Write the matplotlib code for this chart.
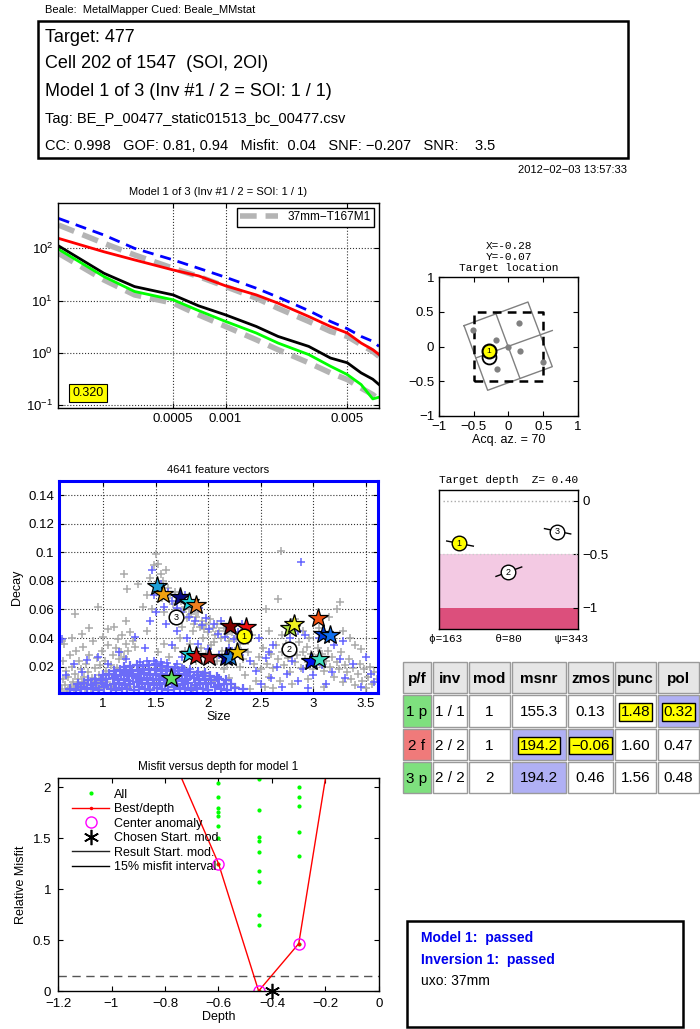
import matplotlib
matplotlib.use("Agg")
import matplotlib.pyplot as plt
import numpy as np
from matplotlib.patches import Rectangle
from matplotlib.lines import Line2D
from matplotlib.ticker import FuncFormatter, NullLocator, LogFormatterMathtext

plt.rcParams['font.family'] = ['Liberation Sans', 'DejaVu Sans']
plt.rcParams['mathtext.default'] = 'regular'
plt.rcParams['xtick.direction'] = 'in'
plt.rcParams['ytick.direction'] = 'in'
plt.rcParams['xtick.top'] = True
plt.rcParams['ytick.right'] = True
plt.rcParams['xtick.labelsize'] = 9.5
plt.rcParams['ytick.labelsize'] = 9.5
plt.rcParams['axes.linewidth'] = 1.0

MONO = ['Liberation Mono', 'DejaVu Sans Mono']

# ---------------- header ----------------
site_line = "Beale:  MetalMapper Cued: Beale_MMstat"
header_big = ["Target: 477", "Cell 202 of 1547  (SOI, 2OI)", "Model 1 of 3 (Inv #1 / 2 = SOI: 1 / 1)"]
header_small = ["Tag: BE_P_00477_static01513_bc_00477.csv",
                "CC: 0.998   GOF: 0.81, 0.94   Misfit:  0.04   SNF: \u22120.207   SNR:    3.5"]
stamp = "2012\u221202\u221203 13:57:33"

# ---------------- decay curves ----------------
decay_time = [1.1e-4, 2e-4, 3e-4, 5e-4, 7e-4, 1e-3, 1.5e-3, 2e-3, 3e-3, 4e-3, 5e-3, 6e-3, 7e-3, 7.6e-3]
lib_upper = [279, 125, 74.7, 41.5, 28.8, 18.5, 11.1, 7.1, 3.97, 2.56, 2.05, 1.42, 1.06, 0.85]
lib_lower = [80, 24.8, 12.8, 8.9, 5.3, 3.18, 1.77, 1.14, 0.64, 0.41, 0.305, 0.21, 0.157, 0.126]
beta_blue = [374, 180, 100, 60, 41.5, 27.9, 17.2, 11.6, 6.4, 3.97, 2.88, 2.05, 1.65, 1.32]
beta_red = [155, 86, 60, 38.5, 29.6, 19.1, 12.8, 8.9, 4.94, 3.18, 2.38, 1.53, 1.14, 0.92]
beta_black = [111, 33.3, 18.5, 12.8, 7.9, 5.3, 3.18, 2.05, 1.32, 0.79, 0.64, 0.41, 0.31, 0.245]
beta_green = [95.7, 28.8, 14.9, 10.3, 6.4, 3.97, 2.38, 1.53, 0.92, 0.55, 0.38, 0.245, 0.13, 0.14]
lib_name = "37mm\u2212T167M1"
match_score = "0.320"

# ---------------- target location ----------------
target_x, target_y = -0.28, -0.07
other_x, other_y = -0.28, -0.15
frame_x = [-0.64, 0.28, 0.63, -0.30, -0.64]
frame_y = [0.30, 0.64, -0.29, -0.63, 0.30]
inner_x0 = [-0.18, -0.47]
inner_y0 = [0.47, -0.165]
inner_x1 = [0.165, 0.63]
inner_y1 = [-0.46, 0.23]
rx_x = [-0.51, 0.15, -0.18, 0.0, 0.16, 0.49, -0.17]
rx_y = [0.24, 0.34, 0.09, 0.0, -0.07, -0.23, -0.33]
acq_az = 70

# ---------------- feature vectors ----------------
gray_pts = [
    (0.61, .004), (0.62, .011), (0.62, .024), (0.63, .036), (0.64, .007), (0.65, .017), (0.66, .003),
    (0.67, .013), (0.68, .028), (0.69, .006), (0.70, .020), (0.71, .009), (0.72, .004), (0.73, .015),
    (0.74, .031), (0.75, .007), (0.76, .011), (0.77, .024), (0.78, .004), (0.79, .018), (0.80, .009),
    (0.81, .034), (0.82, .013), (0.83, .005), (0.84, .022), (0.85, .008), (0.86, .016), (0.87, .028),
    (0.88, .004), (0.89, .012), (0.90, .038), (0.91, .007), (0.92, .019), (0.93, .010), (0.94, .026),
    (0.95, .005), (0.96, .014), (0.97, .021), (0.98, .008), (0.99, .031), (1.00, .012), (1.01, .005),
    (1.02, .024), (1.03, .017), (1.04, .009), (1.05, .035), (1.06, .014), (1.07, .021), (1.08, .006),
    (1.09, .028), (1.10, .011), (1.12, .033), (1.13, .019), (1.14, .039), (1.15, .025), (1.17, .030),
    (1.18, .042), (1.20, .027), (1.22, .036), (1.24, .031), (1.26, .044), (1.28, .038), (1.30, .034),
    (0.61, .038), (0.73, .057), (0.87, .047), (0.95, .0615), (1.05, .046), (1.20, .085), (1.22, .052),
    (1.23, .074), (1.33, .078), (1.42, .045), (0.70, .040), (0.80, .043), (1.00, .041), (1.10, .048),
    (1.38, .062), (1.42, .070), (1.45, .082), (1.48, .091), (1.50, .099), (1.52, .092), (1.55, .085),
    (1.57, .080), (1.60, .088), (1.62, .075), (1.64, .070), (1.66, .064), (1.68, .072), (1.70, .060),
    (1.72, .056), (1.74, .066), (1.76, .058), (1.78, .062), (1.80, .054), (1.82, .060), (1.84, .057),
    (1.86, .050), (1.88, .055), (1.90, .058), (1.92, .048), (1.94, .052), (1.96, .046), (1.98, .050),
    (2.00, .044), (2.02, .053), (2.04, .047), (2.06, .042), (2.08, .050), (2.10, .045), (2.12, .040),
    (2.15, .047), (2.18, .043), (2.20, .038), (2.23, .044), (2.26, .040), (2.30, .036), (2.34, .046),
    (2.38, .038), (2.42, .042), (1.46, .060), (1.56, .068), (1.66, .052), (1.75, .048), (1.58, .058),
    (1.85, .045), (1.95, .040), (2.05, .037),
    (1.52, .030), (1.58, .036), (1.63, .027), (1.68, .033), (1.73, .040), (1.78, .031), (1.83, .036),
    (1.88, .024), (1.93, .033), (1.98, .029), (2.03, .035), (2.08, .024), (2.13, .031), (2.18, .022),
    (2.23, .027), (2.28, .033), (2.33, .025), (2.38, .030), (2.43, .022),
    (2.45, .010), (2.48, .027), (2.50, .018), (2.52, .033), (2.54, .006), (2.56, .022), (2.58, .013),
    (2.60, .029), (2.62, .019), (2.64, .035), (2.66, .025), (2.68, .010), (2.70, .030), (2.72, .021),
    (2.74, .036), (2.76, .026), (2.78, .016), (2.80, .032), (2.82, .023), (2.84, .028), (2.86, .037),
    (2.88, .019), (2.90, .030), (2.92, .025), (2.94, .034), (2.96, .021), (2.98, .029), (3.00, .018),
    (3.02, .026), (3.04, .033), (3.06, .022), (3.08, .029), (3.10, .017), (3.12, .024), (3.14, .031),
    (3.16, .020), (3.18, .027), (3.20, .013), (3.22, .023), (3.24, .018), (3.26, .030), (3.28, .009),
    (3.30, .021), (3.32, .016), (3.34, .025), (3.36, .011), (3.38, .019), (3.40, .007), (3.42, .015),
    (3.44, .022), (3.46, .010), (3.48, .018), (3.50, .005), (3.52, .013), (3.54, .020), (3.56, .008),
    (3.58, .016), (3.60, .011), (2.62, .005), (2.80, .008), (2.95, .011), (3.10, .006), (2.70, .042),
    (2.75, .048), (2.82, .053), (2.90, .045), (2.96, .040), (3.05, .047), (3.15, .055), (3.22, .060),
    (3.25, .065), (3.28, .045), (3.35, .040), (3.45, .032), (2.55, .060), (2.66, .067), (2.69, .101),
    (2.58, .045), (3.40, .035),
    (1.25, .006), (1.35, .015), (1.45, .004), (1.55, .018), (1.65, .008), (1.75, .020), (1.85, .005),
    (1.95, .015), (2.05, .010), (2.15, .018), (2.25, .006), (2.35, .014), (2.40, .004), (2.30, .020),
    (2.20, .012),
]
blue_pts = [
    (0.68, .0045), (0.74, .0035), (0.79, .0055), (0.85, .0040), (0.90, .0050), (0.96, .0035), (1.01, .0055),
    (1.07, .0042), (1.12, .0036), (1.18, .0052), (1.23, .0040), (1.29, .0034), (1.34, .0056), (1.40, .0041),
    (1.45, .0037), (1.51, .0053), (1.56, .0043), (1.62, .0035), (1.67, .0055), (1.73, .0040), (1.78, .0047),
    (1.84, .0036), (1.89, .0052), (1.95, .0041), (2.00, .0036), (2.06, .0054), (2.12, .0042), (2.18, .0038),
    (2.25, .0050), (2.33, .0040),
    (0.76, .0078), (0.82, .0086), (0.88, .0072), (0.93, .0082), (0.99, .0088), (1.04, .0074), (1.10, .0081),
    (1.15, .0087), (1.21, .0073), (1.26, .0080), (1.32, .0089), (1.37, .0075), (1.43, .0083), (1.48, .0071),
    (1.54, .0086), (1.59, .0078), (1.65, .0084), (1.70, .0072), (1.76, .0081), (1.81, .0088), (1.87, .0074),
    (1.92, .0082), (1.98, .0077), (2.03, .0085), (2.09, .0073), (2.15, .0080), (2.22, .0076),
    (0.86, .0108), (0.92, .0116), (0.98, .0103), (1.03, .0112), (1.09, .0119), (1.14, .0105), (1.20, .0114),
    (1.25, .0101), (1.31, .0117), (1.36, .0109), (1.42, .0121), (1.47, .0104), (1.53, .0113), (1.58, .0118),
    (1.64, .0106), (1.69, .0115), (1.75, .0102), (1.80, .0111), (1.86, .0117), (1.91, .0104), (1.97, .0112),
    (2.03, .0107), (2.10, .0115), (2.17, .0103),
    (1.00, .0138), (1.06, .0146), (1.12, .0134), (1.17, .0143), (1.23, .0150), (1.28, .0137), (1.34, .0145),
    (1.39, .0152), (1.45, .0139), (1.50, .0147), (1.56, .0135), (1.61, .0144), (1.67, .0151), (1.72, .0138),
    (1.78, .0146), (1.83, .0133), (1.89, .0142), (1.95, .0137), (2.02, .0131), (2.08, .0127),
    (1.10, .0168), (1.16, .0176), (1.22, .0165), (1.27, .0179), (1.33, .0171), (1.38, .0183), (1.44, .0174),
    (1.49, .0180), (1.55, .0169), (1.60, .0177), (1.66, .0172), (1.71, .0166), (1.77, .0175), (1.83, .0163),
    (1.90, .0160), (1.97, .0156),
    (1.20, .0198), (1.26, .0206), (1.32, .0212), (1.38, .0201), (1.44, .0209), (1.50, .0215), (1.56, .0203),
    (1.62, .0198), (1.68, .0193), (1.75, .0188), (1.83, .0185),
    (1.35, .0232), (1.42, .0240), (1.48, .0236), (1.55, .0229), (1.61, .0225), (1.70, .0220),
    (0.61, .039), (0.65, .014), (0.72, .022), (0.85, .0245), (0.80, .016), (0.95, .027), (1.05, .022),
    (1.15, .030), (1.305, .0407), (1.46, .0875), (1.22, .025), (1.40, .033), (1.48, .070), (1.52, .074),
    (1.55, .078), (1.58, .062), (1.62, .072), (1.65, .066), (1.70, .061), (1.74, .058), (1.78, .070),
    (1.82, .055), (1.87, .052), (1.91, .061), (1.94, .049), (1.98, .054), (2.01, .046), (2.05, .050),
    (2.09, .043), (2.12, .052), (2.16, .041), (2.20, .047), (2.24, .039), (2.28, .044), (2.32, .050),
    (1.60, .050), (1.70, .045), (1.80, .040), (1.90, .036), (2.00, .032), (2.10, .028), (2.20, .033),
    (2.30, .028), (2.40, .024), (1.65, .035), (1.75, .027), (1.50, .058), (1.45, .052),
    (2.45, .017), (2.50, .008), (2.55, .026), (2.60, .012), (2.65, .020), (2.70, .006), (2.75, .015),
    (2.80, .024), (2.85, .010), (2.88, .0935), (2.90, .018), (2.92, .042), (2.95, .005), (3.00, .014),
    (3.05, .040), (3.08, .021), (3.12, .008), (3.18, .016), (3.25, .025), (3.30, .012), (3.38, .022),
    (3.45, .006), (3.50, .027), (3.55, .015), (3.58, .009), (2.62, .035), (2.78, .040), (2.85, .045),
    (3.20, .035), (3.28, .038), (2.48, .040), (2.58, .030),
]
star_size = [1.511, 1.565, 1.733, 1.812, 1.886, 2.21, 2.362, 2.774, 2.819, 3.041, 3.092, 3.155,
             1.812, 1.886, 2.01, 2.165, 2.21, 2.273, 2.981, 3.05, 1.648]
star_decay = [0.0766, 0.0708, 0.0685, 0.0655, 0.0634, 0.0483, 0.0476, 0.0472, 0.0495, 0.0539, 0.0426, 0.0419,
              0.0285, 0.0273, 0.0268, 0.0264, 0.0264, 0.0303, 0.0240, 0.0250, 0.0118]
star_color = ['#1ea0d8', '#f0a010', '#0a0a80', '#20d8e0', '#f08020', '#800000', '#f01010', '#b0e040',
              '#f0f020', '#f05010', '#0040e0', '#1070f0',
              '#20d8e0', '#d01010', '#a01010', '#0000a0', '#2080e0', '#f0c000', '#0010f0', '#40e0c0', '#60e060']
model_size = [2.336, 2.769, 1.695]
model_decay = [0.0414, 0.032, 0.0546]
model_label = ['1', '2', '3']
model_face = ['yellow', 'white', 'white']

# ---------------- target depth ----------------
depth_x = [-0.708, -0.012, 0.693]
depth_z = [-0.40, -0.67, -0.29]
depth_seg_x0 = [-0.889, -0.18, 0.518]
depth_seg_z0 = [-0.377, -0.708, -0.261]
depth_seg_x1 = [-0.506, 0.19, 0.895]
depth_seg_z1 = [-0.425, -0.62, -0.311]
angles_text = "\u03d5=163     \u03b8=80     \u03c8=343"

# ---------------- table ----------------
table_header = ["p/f", "inv", "mod", "msnr", "zmos", "punc", "pol"]
table_rows = [["1 p", "1 / 1", "1", "155.3", "0.13", "1.48", "0.32"],
              ["2 f", "2 / 2", "1", "194.2", "\u22120.06", "1.60", "0.47"],
              ["3 p", "2 / 2", "2", "194.2", "0.46", "1.56", "0.48"]]
pf_color = ['#7ee07e', '#f07a7a', '#7ee07e']
lavender_cells = [(0, 6), (1, 3), (1, 4), (2, 3)]
yellow_cells = [(0, 5), (0, 6), (1, 3), (1, 4)]

# ---------------- misfit vs depth ----------------
all_depth = [-0.6] * 8 + [-0.45] * 10 + [-0.3] * 6
all_misfit = [2.04, 1.90, 1.80, 1.76, 1.72, 1.62, 1.50, 1.25,
              2.085, 1.78, 1.51, 1.47, 1.365, 1.18, 1.07, 0.75, 0.645, 0.0,
              2.00, 1.905, 1.82, 1.56, 1.32, 0.465]
best_depth = [-0.75, -0.6, -0.45, -0.3, -0.15]
best_misfit = [2.16, 1.25, 0.0, 0.465, 2.9]
center_depth = [-0.6, -0.45, -0.3]
center_misfit = [1.25, 0.0, 0.465]
chosen_depth, chosen_misfit = -0.4, 0.0
misfit_interval = 0.15

status_lines = ["Model 1:  passed", "Inversion 1:  passed", "uxo: 37mm"]

W, H = 700, 1029
fig = plt.figure(figsize=(W / 100, H / 100), dpi=100)


def axes_px(x0, y0, x1, y1):
    return fig.add_axes([x0 / W, 1 - y1 / H, (x1 - x0) / W, (y1 - y0) / H])


def ftext(x, y, s, **kw):
    fig.text(x / W, 1 - y / H, s, **kw)


def gfmt(v, pos):
    return ('%g' % (round(v, 6) + 0.0)).replace('-', '\u2212')


# header
ftext(45, 10, site_line, fontsize=8, va='center')
fig.patches.append(Rectangle((38 / W, 1 - 158 / H), 590 / W, 137 / H, transform=fig.transFigure,
                             fill=False, lw=1.8, ec='black'))
for s, y in zip(header_big, [37, 64, 92]):
    ftext(45, y, s, fontsize=13, va='center')
for s, y in zip(header_small, [119, 146]):
    ftext(45, y, s, fontsize=10.5, va='center')
ftext(627, 170, stamp, fontsize=8, ha='right', va='center')

# decay panel
ax = axes_px(58, 203, 379, 408)
ax.plot(decay_time, lib_upper, color='#b4b4b4', lw=4, dashes=(3, 1.6))
ax.plot(decay_time, lib_lower, color='#b4b4b4', lw=4, dashes=(3, 1.6))
ax.plot(decay_time, beta_blue, color='#0000ff', lw=2, dashes=(4, 2.5))
ax.plot(decay_time, beta_red, color='#ff0000', lw=2)
ax.plot(decay_time, beta_black, color='black', lw=2)
ax.plot(decay_time, beta_green, color='#00ff00', lw=2)
ax.set_xscale('log')
ax.set_yscale('log')
ax.set_xlim(1.09e-4, 7.6e-3)
ax.set_ylim(0.087, 740)
ax.set_xticks([0.0005, 0.001, 0.005])
ax.xaxis.set_major_formatter(FuncFormatter(gfmt))
ax.set_yticks([0.1, 1, 10, 100])
ax.yaxis.set_major_formatter(LogFormatterMathtext())
ax.xaxis.set_minor_locator(NullLocator())
ax.yaxis.set_minor_locator(NullLocator())
ax.grid(True, ls=':', color='#333333', lw=0.8)
ax.set_title("Model 1 of 3 (Inv #1 / 2 = SOI: 1 / 1)", fontsize=8, pad=6)
leg = ax.legend([Line2D([], [], color='#b4b4b4', lw=4, dashes=(3, 1.6))], [lib_name],
                loc='upper right', fontsize=8.5, fancybox=False, framealpha=1, edgecolor='black',
                handlelength=3.2, borderpad=0.3, borderaxespad=0.4)
leg.get_frame().set_linewidth(1)
ax.text(0.045, 0.075, match_score, transform=ax.transAxes, fontsize=9, va='center',
        bbox=dict(boxstyle='square,pad=0.25', fc='yellow', ec='black', lw=0.8))

# target location panel
ax = axes_px(439, 277, 578, 416)
ax.plot(frame_x, frame_y, color='#808080', lw=1)
for x0, y0, x1, y1 in zip(inner_x0, inner_y0, inner_x1, inner_y1):
    ax.plot([x0, x1], [y0, y1], color='#808080', lw=1)
ax.plot([-0.5, 0.5, 0.5, -0.5, -0.5], [-0.5, -0.5, 0.5, 0.5, -0.5], color='black', lw=1.8, dashes=(3.5, 2.5))
ax.plot(rx_x, rx_y, 'o', color='#808080', ms=4.5, mec='none')
ax.plot([other_x], [other_y], 'o', mfc='white', mec='black', ms=10, mew=1.3)
ax.plot([target_x], [target_y], 'o', mfc='yellow', mec='black', ms=10, mew=1.5)
ax.text(target_x, target_y, '1', fontsize=6, ha='center', va='center')
ax.set_xlim(-1, 1)
ax.set_ylim(-1, 1)
ax.set_xticks([-1, -0.5, 0, 0.5, 1])
ax.set_yticks([-1, -0.5, 0, 0.5, 1])
ax.xaxis.set_major_formatter(FuncFormatter(gfmt))
ax.yaxis.set_major_formatter(FuncFormatter(gfmt))
ax.set_title("X=%.2f\nY=%.2f\nTarget location" % (target_x, target_y), fontsize=8,
             family=MONO, linespacing=1.15, pad=4)
ax.set_xlabel("Acq. az. = %d" % acq_az, fontsize=9, labelpad=1)

# feature vector scatter
ax = axes_px(59, 481, 378, 693)
g = np.array(gray_pts)
b = np.array(blue_pts)
ax.plot(g[:, 0], g[:, 1], '+', color='#aaaaaa', ms=5.5, mew=1.1)
ax.plot(b[:126, 0], b[:126, 1], '+', color='#6c6cf8', ms=7, mew=1.6)
ax.plot(b[126:, 0], b[126:, 1], '+', color='#6464ff', ms=5.5, mew=1.1)
for x, y, c in zip(star_size, star_decay, star_color):
    ax.plot(x, y, '*', ms=15, mfc=c, mec='black', mew=0.9)
for x, y, lab, fc in zip(model_size, model_decay, model_label, model_face):
    ax.plot(x, y, 'o', ms=10.5, mfc=fc, mec='black', mew=1.1)
    ax.text(x, y, lab, fontsize=6.5, ha='center', va='center')
ax.set_xlim(0.58, 3.614)
ax.set_ylim(0.0015, 0.15)
ax.set_xticks([1, 1.5, 2, 2.5, 3, 3.5])
ax.set_yticks([0.02, 0.04, 0.06, 0.08, 0.1, 0.12, 0.14])
ax.xaxis.set_major_formatter(FuncFormatter(gfmt))
ax.yaxis.set_major_formatter(FuncFormatter(gfmt))
ax.grid(True, ls=':', color='#333333', lw=0.8)
for sp in ax.spines.values():
    sp.set_color('#0000ff')
    sp.set_linewidth(2.2)
ax.set_title("4641 feature vectors", fontsize=8, pad=6)
ax.set_xlabel("Size", fontsize=9, labelpad=1)
ax.set_ylabel("Decay", fontsize=9)

# target depth panel
ax = axes_px(439, 490, 578, 629)
ax.axhspan(-1.0, -0.5, color='#f3c9e3', lw=0)
ax.axhspan(-1.2, -1.0, color='#dc4f7c', lw=0)
ax.axhline(0, color='#aaaaaa', ls=':', lw=1, xmin=0.03, xmax=0.97)
ax.axhline(-0.5, color='#cccccc', ls=':', lw=1)
for x0, z0, x1, z1 in zip(depth_seg_x0, depth_seg_z0, depth_seg_x1, depth_seg_z1):
    ax.plot([x0, x1], [z0, z1], color='black', lw=1)
for x, z, lab, fc in zip(depth_x, depth_z, model_label, model_face):
    ax.plot(x, z, 'o', ms=10.5, mfc=fc, mec='black', mew=1.0)
    ax.text(x, z, lab, fontsize=6.5, ha='center', va='center')
ax.set_xlim(-1, 1)
ax.set_ylim(-1.2, 0.1)
ax.set_xticks([])
ax.set_yticks([-1, -0.5, 0])
ax.yaxis.set_major_formatter(FuncFormatter(gfmt))
ax.tick_params(axis='y', left=False, right=True, labelleft=False, labelright=True)
ax.tick_params(axis='x', top=False, bottom=False)
ax.set_title("Target depth  Z= %.2f" % -depth_z[0], fontsize=8, family=MONO, pad=5)
ax.text(0.5, -0.07, angles_text, transform=ax.transAxes, fontsize=8, family=MONO,
        ha='center', va='center')

# table
ax = axes_px(402, 661, 700, 795)
ax.set_xlim(402, 700)
ax.set_ylim(795, 661)
ax.axis('off')
col_edges = [402, 432, 468, 511, 567, 614, 657, 700]
row_edges = [661, 694, 728, 761, 794]
for r in range(4):
    for c in range(7):
        x0, x1 = col_edges[c], col_edges[c + 1]
        y0, y1 = row_edges[r], row_edges[r + 1]
        if r == 0:
            fc, txt, wt = '#e6e6e6', table_header[c], 'bold'
        else:
            txt, wt = table_rows[r - 1][c], 'normal'
            fc = pf_color[r - 1] if c == 0 else ('#b0b0f4' if (r - 1, c) in lavender_cells else 'white')
        ax.add_patch(Rectangle((x0 + 1, y0 + 1), x1 - x0 - 2, y1 - y0 - 2, fc=fc, ec='#9a9a9a', lw=1,
                               clip_on=False))
        box = None
        if r > 0 and (r - 1, c) in yellow_cells:
            box = dict(boxstyle='square,pad=0.12', fc='yellow', ec='black', lw=1)
        ax.text((x0 + x1) / 2, (y0 + y1) / 2 + 1, txt, fontsize=11, weight=wt, ha='center', va='center',
                bbox=box, clip_on=False)

# misfit vs depth
ax = axes_px(58, 778, 379, 991)
ax.axhline(misfit_interval, color='#555555', lw=1, dashes=(6, 4))
h_all, = ax.plot(all_depth, all_misfit, '.', color='#00ff00', ms=4)
h_best, = ax.plot(best_depth, best_misfit, '.-', color='red', lw=1, ms=3)
h_cen, = ax.plot(center_depth, center_misfit, 'o', mfc='none', mec='magenta', ms=8, mew=1)
h_cho, = ax.plot([chosen_depth], [chosen_misfit], marker=(6, 2, 0), color='black', ms=11, mew=1.2,
                 ls='none', clip_on=False)
h_res = Line2D([], [], color='#222222', lw=1)
h_int = Line2D([], [], color='black', lw=1)
ax.legend([h_all, h_best, h_cen, h_cho, h_res, h_int],
          ["All", "Best/depth", "Center anomaly", "Chosen Start. mod.", "Result Start. mod.",
           "15% misfit interval"],
          loc='upper left', bbox_to_anchor=(0.02, 0.985), frameon=False, fontsize=9,
          handlelength=3.0, labelspacing=0.2, borderaxespad=0.2, handletextpad=0.4)
ax.set_xlim(-1.2, 0)
ax.set_ylim(0, 2.09)
ax.set_xticks([-1.2, -1, -0.8, -0.6, -0.4, -0.2, 0])
ax.set_yticks([0, 0.5, 1, 1.5, 2])
ax.xaxis.set_major_formatter(FuncFormatter(gfmt))
ax.yaxis.set_major_formatter(FuncFormatter(gfmt))
ax.tick_params(axis='x', pad=5)
ax.tick_params(axis='y', pad=5)
ax.set_title("Misfit versus depth for model 1", fontsize=8.5, pad=6)
ax.set_xlabel("Depth", fontsize=9, labelpad=1)
ax.set_ylabel("Relative Misfit", fontsize=9)

# status box
fig.patches.append(Rectangle((407 / W, 1 - 1027 / H), 276 / W, 106 / H, transform=fig.transFigure,
                             fill=False, lw=1.8, ec='black'))
ftext(421, 938, status_lines[0], fontsize=10, weight='bold', color='#0000ee', va='center')
ftext(421, 960, status_lines[1], fontsize=10, weight='bold', color='#0000ee', va='center')
ftext(421, 981, status_lines[2], fontsize=10, va='center')

fig.savefig("out.png", dpi=100)
